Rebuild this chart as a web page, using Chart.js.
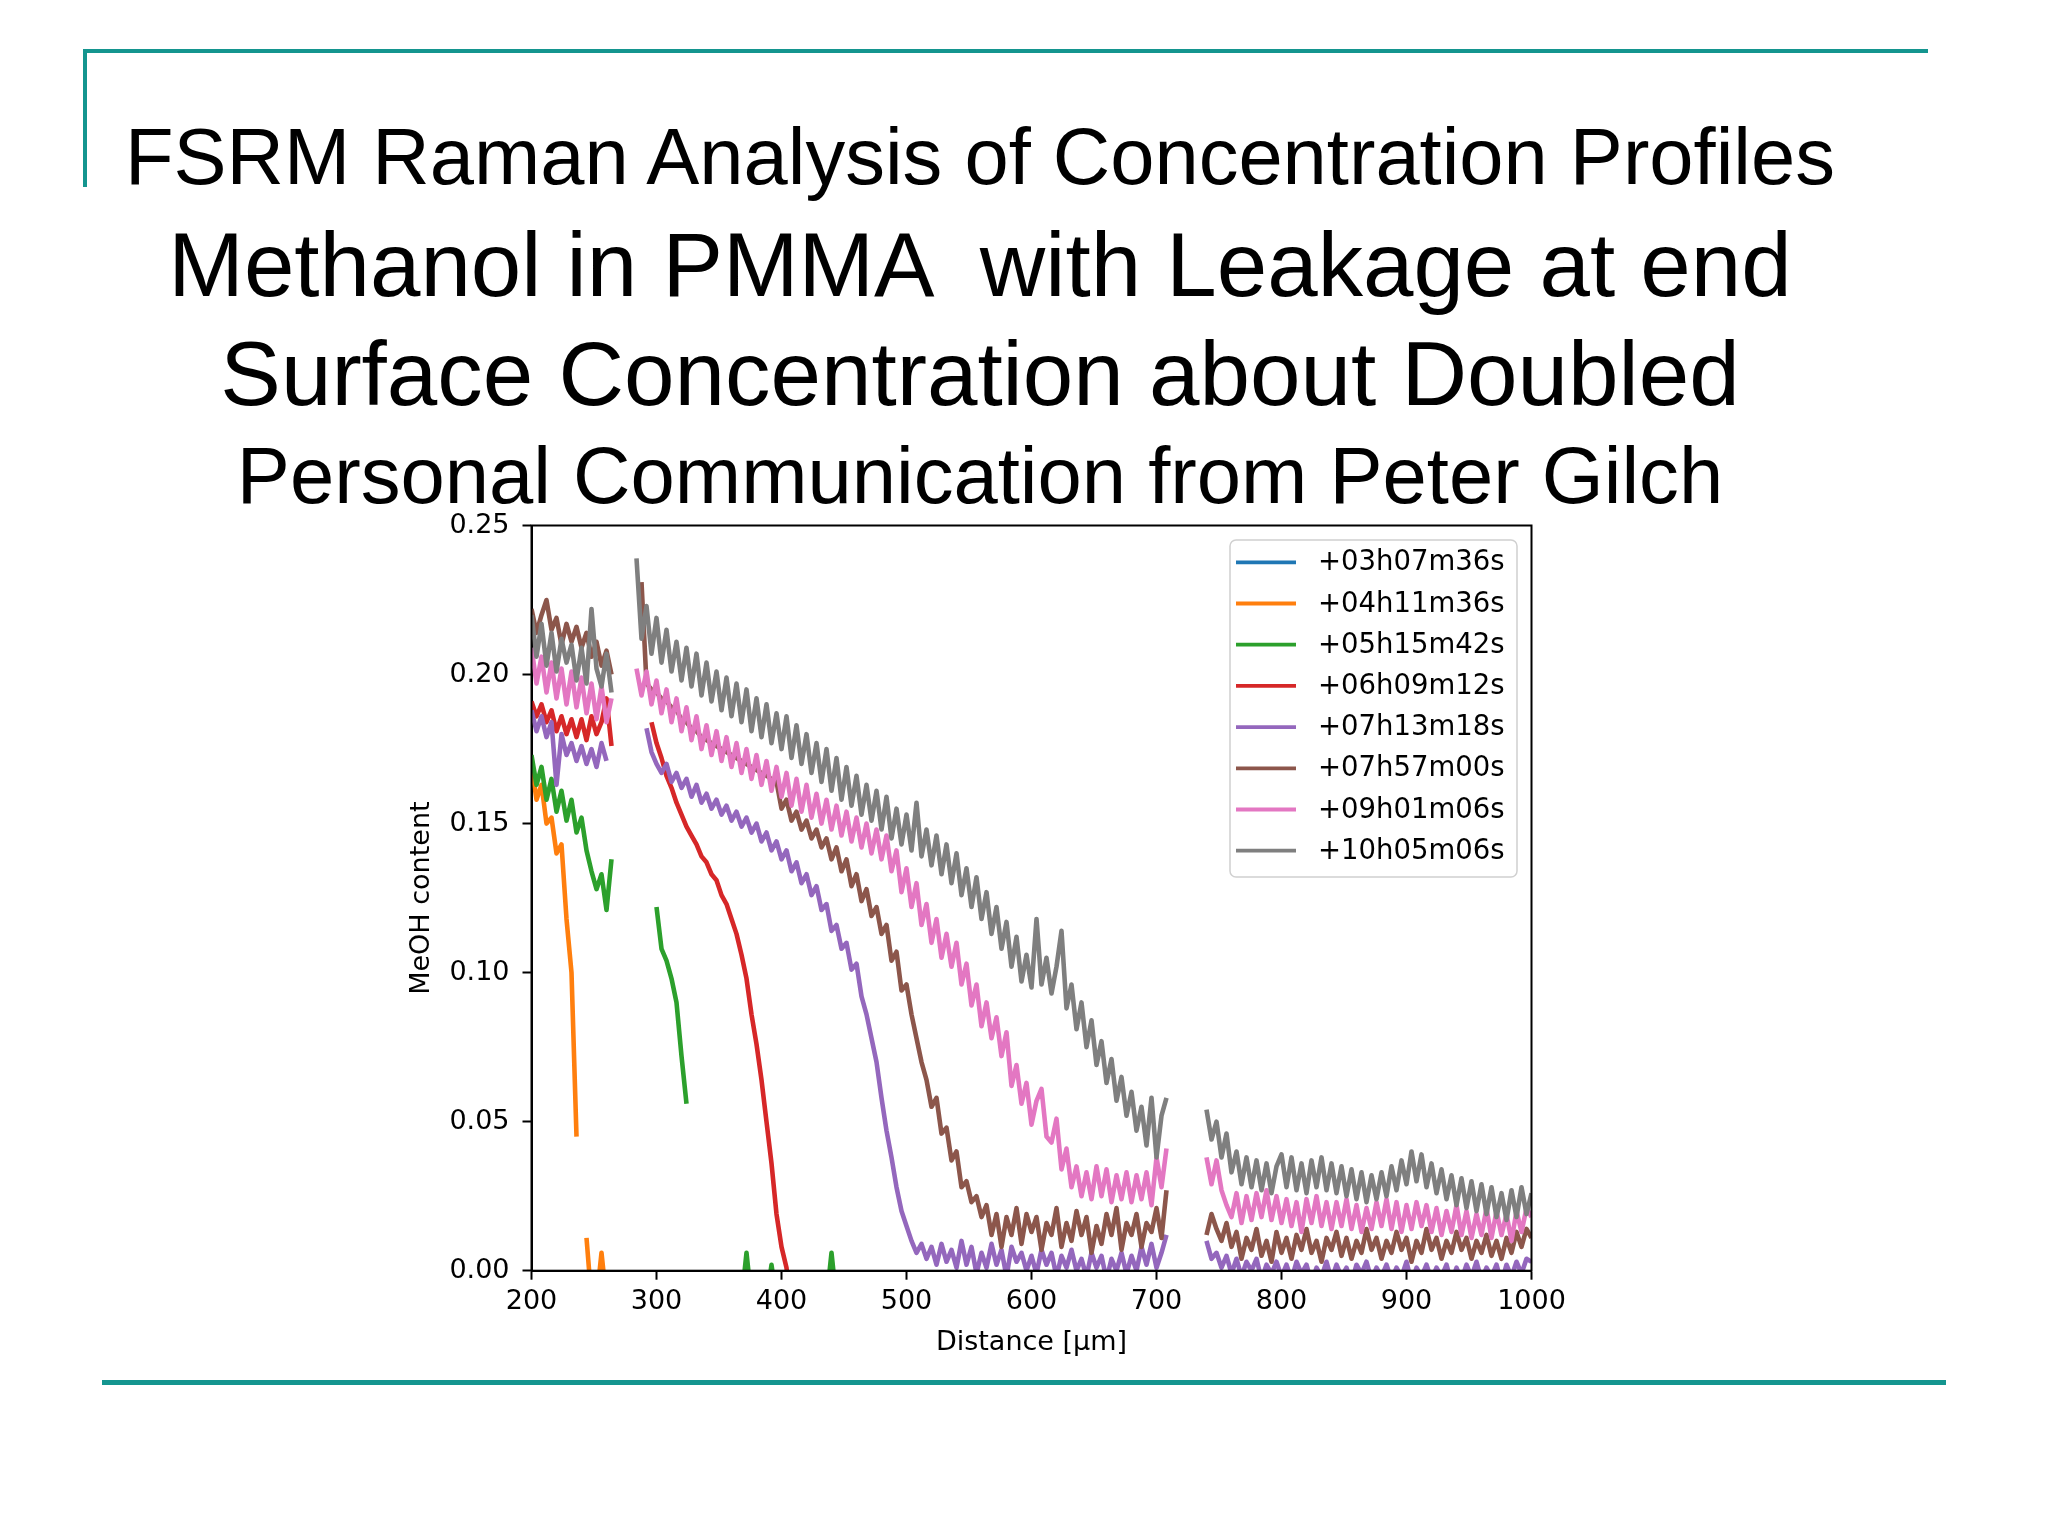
<!DOCTYPE html>
<html>
<head>
<meta charset="utf-8">
<title>FSRM Raman Analysis of Concentration Profiles</title>
<script src="https://cdn.jsdelivr.net/npm/chart.js@4.4.0/dist/chart.umd.min.js"></script>
<style>
  html, body { margin: 0; padding: 0; background: #fff; }
  body { width: 2048px; height: 1536px; position: relative; overflow: hidden; }
  .rule { position: absolute; background: #14958f; }
  .head {
    position: absolute; left: 0; width: 1960px; text-align: center; white-space: pre;
    font-family: "Liberation Sans", Arial, sans-serif; color: #000; line-height: 1;
  }
  #wrap { position: absolute; left: 0; top: 0; width: 2048px; height: 1536px; }
</style>
</head>
<body>
<div class="rule" style="left:83px;top:49px;width:1845px;height:4px"></div>
<div class="rule" style="left:83px;top:49px;width:4px;height:138px"></div>
<div class="rule" style="left:102px;top:1380px;width:1844px;height:5px"></div>

<div class="head" style="top:117px;font-size:79.5px">FSRM Raman Analysis of Concentration Profiles</div>
<div class="head" style="top:220px;font-size:90.7px">Methanol in PMMA  with Leakage at end</div>
<div class="head" style="top:329px;font-size:90.8px">Surface Concentration about Doubled</div>
<div class="head" style="top:436px;font-size:79.6px">Personal Communication from Peter Gilch</div>

<div id="wrap"><canvas id="myChart"></canvas></div>

<script>
// distance [µm], one sample every 4 µm
var distance = [
  200, 204, 208, 212, 216, 220, 224, 228, 232, 236,
  240, 244, 248, 252, 256, 260, 264, 268, 272, 276,
  280, 284, 288, 292, 296, 300, 304, 308, 312, 316,
  320, 324, 328, 332, 336, 340, 344, 348, 352, 356,
  360, 364, 368, 372, 376, 380, 384, 388, 392, 396,
  400, 404, 408, 412, 416, 420, 424, 428, 432, 436,
  440, 444, 448, 452, 456, 460, 464, 468, 472, 476,
  480, 484, 488, 492, 496, 500, 504, 508, 512, 516,
  520, 524, 528, 532, 536, 540, 544, 548, 552, 556,
  560, 564, 568, 572, 576, 580, 584, 588, 592, 596,
  600, 604, 608, 612, 616, 620, 624, 628, 632, 636,
  640, 644, 648, 652, 656, 660, 664, 668, 672, 676,
  680, 684, 688, 692, 696, 700, 704, 708, 712, 716,
  720, 724, 728, 732, 736, 740, 744, 748, 752, 756,
  760, 764, 768, 772, 776, 780, 784, 788, 792, 796,
  800, 804, 808, 812, 816, 820, 824, 828, 832, 836,
  840, 844, 848, 852, 856, 860, 864, 868, 872, 876,
  880, 884, 888, 892, 896, 900, 904, 908, 912, 916,
  920, 924, 928, 932, 936, 940, 944, 948, 952, 956,
  960, 964, 968, 972, 976, 980, 984, 988, 992, 996,
  1000
];

var seriesLabels = ['+03h07m36s', '+04h11m36s', '+05h15m42s', '+06h09m12s',
                    '+07h13m18s', '+07h57m00s', '+09h01m06s', '+10h05m06s'];

var xTicks = [200, 300, 400, 500, 600, 700, 800, 900, 1000];
var yTicks = [0, 0.05, 0.10, 0.15, 0.20, 0.25];

// MeOH content per scan (null = no data)
var t0307 = [];

var t0411 = [
  0.170, 0.158, 0.163, 0.150, 0.152, 0.140, 0.143, 0.118, 0.100, 0.045,
  null, 0.011, -0.010, -0.010, 0.006, -0.010
];

var t0515 = [
  0.173, 0.163, 0.169, 0.158, 0.165, 0.154, 0.161, 0.151, 0.158, 0.147,
  0.152, 0.141, 0.134, 0.128, 0.133, 0.121, 0.138, null, null, null,
  null, null, null, null, null, 0.122, 0.108, 0.104, 0.098, 0.090,
  0.072, 0.056, null, null, null, null, null, null, null, null,
  null, null, -0.010, 0.006, -0.010, null, null, -0.010, 0.002, -0.010,
  null, null, null, null, null, null, null, null, null, -0.010,
  0.006, -0.010
];

var t0609 = [
  0.191, 0.186, 0.190, 0.184, 0.188, 0.181, 0.186, 0.180, 0.185, 0.179,
  0.185, 0.178, 0.186, 0.180, 0.184, 0.192, 0.176, null, null, null,
  null, null, null, null, 0.184, 0.177, 0.172, 0.166, 0.162, 0.157,
  0.153, 0.149, 0.146, 0.143, 0.139, 0.137, 0.133, 0.131, 0.126, 0.123,
  0.118, 0.113, 0.106, 0.098, 0.086, 0.076, 0.064, 0.050, 0.036, 0.019,
  0.008, 0.001, -0.015
];

var t0713 = [
  0.188, 0.181, 0.186, 0.179, 0.184, 0.163, 0.180, 0.173, 0.177, 0.171,
  0.176, 0.170, 0.175, 0.169, 0.177, 0.171, null, null, null, null,
  null, null, null, 0.182, 0.174, 0.170, 0.167, 0.170, 0.164, 0.167,
  0.162, 0.165, 0.159, 0.163, 0.157, 0.160, 0.155, 0.158, 0.153, 0.156,
  0.151, 0.154, 0.149, 0.152, 0.147, 0.150, 0.144, 0.147, 0.141, 0.144,
  0.138, 0.141, 0.134, 0.137, 0.130, 0.133, 0.126, 0.129, 0.121, 0.123,
  0.114, 0.116, 0.108, 0.110, 0.101, 0.103, 0.092, 0.086, 0.078, 0.070,
  0.058, 0.047, 0.038, 0.028, 0.020, 0.015, 0.010, 0.006, 0.009, 0.004,
  0.008, 0.002, 0.009, 0.003, 0.007, 0.001, 0.010, 0.002, 0.008, -0.001,
  0.006, 0.001, 0.009, 0.002, 0.007, -0.002, 0.008, 0.003, 0.006, 0.000,
  0.005, -0.001, 0.007, 0.002, 0.006, -0.002, 0.005, 0.001, 0.007, 0.000,
  0.004, -0.002, 0.006, 0.001, 0.005, -0.003, 0.004, 0.000, 0.006, -0.001,
  0.005, 0.000, 0.008, 0.002, 0.009, 0.001, 0.006, 0.012, null, null,
  null, null, null, null, null, 0.010, 0.004, 0.006, 0.001, 0.005,
  -0.001, 0.004, -0.002, 0.003, 0.000, 0.004, -0.003, 0.002, -0.001, 0.003,
  -0.002, 0.002, -0.003, 0.003, -0.001, 0.002, -0.004, 0.001, -0.002, 0.003,
  -0.003, 0.002, -0.002, 0.001, -0.004, 0.002, -0.001, 0.003, -0.003, 0.001,
  -0.002, 0.002, -0.003, 0.001, -0.002, 0.003, -0.004, 0.001, -0.002, 0.002,
  -0.003, 0.001, -0.002, 0.002, -0.004, 0.001, -0.003, 0.002, -0.002, 0.003,
  -0.003, 0.001, -0.002, 0.002, -0.004, 0.002, -0.002, 0.003, -0.001, 0.004,
  0.003
];

var t0757 = [
  0.222, 0.214, 0.220, 0.225, 0.215, 0.219, 0.210, 0.217, 0.211, 0.216,
  0.209, 0.214, 0.206, 0.211, 0.203, 0.208, 0.200, null, null, null,
  null, null, 0.231, 0.197, 0.195, 0.194, 0.192, 0.191, 0.189, 0.188,
  0.185, 0.184, 0.182, 0.181, 0.179, 0.178, 0.177, 0.176, 0.175, 0.174,
  0.173, 0.172, 0.171, 0.170, 0.169, 0.168, 0.167, 0.166, 0.165, 0.164,
  0.155, 0.158, 0.151, 0.154, 0.148, 0.151, 0.145, 0.148, 0.142, 0.145,
  0.138, 0.142, 0.134, 0.138, 0.129, 0.133, 0.124, 0.128, 0.119, 0.122,
  0.113, 0.116, 0.104, 0.107, 0.094, 0.096, 0.086, 0.078, 0.070, 0.064,
  0.055, 0.058, 0.046, 0.048, 0.037, 0.040, 0.028, 0.030, 0.023, 0.025,
  0.018, 0.022, 0.012, 0.019, 0.008, 0.018, 0.012, 0.021, 0.009, 0.019,
  0.013, 0.018, 0.007, 0.016, 0.012, 0.021, 0.008, 0.016, 0.010, 0.020,
  0.012, 0.018, 0.006, 0.015, 0.009, 0.019, 0.012, 0.021, 0.007, 0.016,
  0.012, 0.019, 0.008, 0.016, 0.013, 0.021, 0.011, 0.027, null, null,
  null, null, null, null, null, 0.012, 0.019, 0.014, 0.010, 0.016,
  0.008, 0.013, 0.004, 0.011, 0.007, 0.014, 0.005, 0.010, 0.003, 0.013,
  0.006, 0.011, 0.004, 0.012, 0.007, 0.014, 0.006, 0.010, 0.003, 0.011,
  0.007, 0.013, 0.005, 0.011, 0.004, 0.010, 0.006, 0.014, 0.007, 0.011,
  0.004, 0.010, 0.006, 0.013, 0.007, 0.011, 0.003, 0.010, 0.006, 0.014,
  0.007, 0.011, 0.004, 0.010, 0.006, 0.013, 0.007, 0.011, 0.004, 0.010,
  0.006, 0.012, 0.005, 0.010, 0.004, 0.011, 0.006, 0.013, 0.008, 0.014,
  0.011
];

var t0901 = [
  0.209, 0.197, 0.206, 0.194, 0.204, 0.192, 0.202, 0.190, 0.201, 0.189,
  0.199, 0.187, 0.197, 0.185, 0.196, 0.184, 0.192, null, null, null,
  null, 0.202, 0.193, 0.201, 0.190, 0.198, 0.187, 0.195, 0.184, 0.192,
  0.181, 0.189, 0.178, 0.186, 0.175, 0.183, 0.173, 0.181, 0.171, 0.179,
  0.169, 0.177, 0.167, 0.175, 0.165, 0.173, 0.163, 0.171, 0.161, 0.169,
  0.159, 0.167, 0.156, 0.165, 0.154, 0.163, 0.152, 0.160, 0.150, 0.158,
  0.148, 0.156, 0.146, 0.154, 0.144, 0.152, 0.142, 0.150, 0.140, 0.148,
  0.138, 0.146, 0.134, 0.141, 0.127, 0.135, 0.122, 0.130, 0.116, 0.123,
  0.110, 0.118, 0.105, 0.113, 0.102, 0.110, 0.096, 0.103, 0.089, 0.096,
  0.082, 0.090, 0.078, 0.085, 0.072, 0.080, 0.062, 0.069, 0.056, 0.063,
  0.049, 0.057, 0.061, 0.045, 0.043, 0.051, 0.034, 0.041, 0.028, 0.035,
  0.025, 0.033, 0.024, 0.035, 0.025, 0.034, 0.023, 0.032, 0.024, 0.033,
  0.023, 0.032, 0.024, 0.033, 0.022, 0.038, 0.028, 0.041, null, null,
  null, null, null, null, null, 0.038, 0.029, 0.037, 0.027, 0.022,
  0.018, 0.026, 0.016, 0.025, 0.017, 0.026, 0.018, 0.027, 0.017, 0.025,
  0.016, 0.024, 0.015, 0.023, 0.013, 0.024, 0.016, 0.025, 0.015, 0.023,
  0.014, 0.023, 0.015, 0.024, 0.014, 0.022, 0.013, 0.021, 0.014, 0.023,
  0.015, 0.024, 0.014, 0.023, 0.013, 0.022, 0.014, 0.023, 0.015, 0.022,
  0.013, 0.021, 0.012, 0.020, 0.013, 0.022, 0.012, 0.020, 0.011, 0.019,
  0.012, 0.021, 0.011, 0.020, 0.012, 0.019, 0.010, 0.020, 0.013, 0.021,
  0.018
];

var t1005 = [
  0.220, 0.206, 0.217, 0.203, 0.214, 0.201, 0.212, 0.204, 0.210, 0.198,
  0.209, 0.197, 0.222, 0.202, 0.196, 0.207, 0.194, null, null, null,
  null, 0.239, 0.212, 0.223, 0.207, 0.219, 0.204, 0.215, 0.201, 0.211,
  0.198, 0.209, 0.196, 0.207, 0.193, 0.204, 0.191, 0.201, 0.188, 0.199,
  0.186, 0.197, 0.184, 0.195, 0.181, 0.192, 0.179, 0.190, 0.177, 0.187,
  0.175, 0.186, 0.172, 0.183, 0.170, 0.180, 0.167, 0.177, 0.164, 0.175,
  0.161, 0.172, 0.158, 0.169, 0.156, 0.166, 0.153, 0.163, 0.151, 0.161,
  0.148, 0.159, 0.145, 0.155, 0.143, 0.153, 0.141, 0.157, 0.139, 0.148,
  0.136, 0.146, 0.133, 0.143, 0.130, 0.140, 0.126, 0.135, 0.122, 0.132,
  0.118, 0.127, 0.113, 0.122, 0.108, 0.117, 0.102, 0.112, 0.097, 0.106,
  0.095, 0.118, 0.096, 0.105, 0.093, 0.102, 0.114, 0.088, 0.096, 0.081,
  0.090, 0.075, 0.084, 0.069, 0.077, 0.063, 0.071, 0.057, 0.065, 0.052,
  0.060, 0.047, 0.055, 0.042, 0.058, 0.038, 0.052, 0.058, null, null,
  null, null, null, null, null, 0.054, 0.044, 0.050, 0.038, 0.046,
  0.033, 0.040, 0.029, 0.038, 0.028, 0.037, 0.027, 0.036, 0.026, 0.035,
  0.039, 0.028, 0.038, 0.027, 0.036, 0.026, 0.037, 0.028, 0.038, 0.027,
  0.036, 0.026, 0.035, 0.025, 0.034, 0.024, 0.033, 0.023, 0.032, 0.024,
  0.033, 0.025, 0.035, 0.027, 0.037, 0.029, 0.040, 0.030, 0.039, 0.028,
  0.036, 0.026, 0.034, 0.024, 0.032, 0.022, 0.031, 0.021, 0.030, 0.020,
  0.029, 0.019, 0.028, 0.018, 0.026, 0.017, 0.027, 0.018, 0.028, 0.019,
  0.026
];

var allSeries = [t0307, t0411, t0515, t0609, t0713, t0757, t0901, t1005];
var colors = ['#1f77b4', '#ff7f0e', '#2ca02c', '#d62728', '#9467bd', '#8c564b', '#e377c2', '#7f7f7f'];

Chart.defaults.font.family = "'DejaVu Sans', sans-serif";
Chart.defaults.font.size = 27;
Chart.defaults.color = '#000';

// frame + legend inside the axes, like matplotlib
var insideLegend = {
    id: 'insideLegend',
    afterDatasetsDraw: function(chart) {
        var ctx = chart.ctx;
        var a = chart.chartArea;
        ctx.save();
        ctx.strokeStyle = '#000';
        ctx.lineWidth = 2;
        ctx.strokeRect(a.left, a.top, a.right - a.left, a.bottom - a.top);

        var x0 = a.right - 301.5, y0 = a.top + 14.5, w = 287, h = 337;
        ctx.beginPath();
        ctx.roundRect(x0, y0, w, h, 6);
        ctx.fillStyle = 'rgba(255,255,255,0.8)';
        ctx.fill();
        ctx.strokeStyle = '#d0d0d0';
        ctx.lineWidth = 1.5;
        ctx.stroke();

        ctx.font = "27.5px 'DejaVu Sans', sans-serif";
        ctx.textBaseline = 'middle';
        ctx.textAlign = 'left';
        chart.data.datasets.forEach(function(ds, i) {
            var y = y0 + 22.3 + 41.2 * i;
            ctx.beginPath();
            ctx.moveTo(x0 + 6, y);
            ctx.lineTo(x0 + 66, y);
            ctx.strokeStyle = ds.borderColor;
            ctx.lineWidth = 3.8;
            ctx.stroke();
            ctx.fillStyle = '#000';
            ctx.fillText(ds.label, x0 + 88, y + 1);
        });
        ctx.restore();
    }
};

var datasets = allSeries.map(function(values, i) {
    return {
        label: seriesLabels[i],
        data: values.map(function(v, j) { return { x: distance[j], y: v }; }),
        borderColor: colors[i],
        backgroundColor: colors[i],
        borderWidth: 4.6,
        borderJoinStyle: 'round',
        pointRadius: 0,
        tension: 0,
        spanGaps: false,
        order: allSeries.length - 1 - i
    };
});

var ctx = document.getElementById('myChart').getContext('2d');
var myChart = new Chart(ctx, {
    type: 'line',
    data: { datasets: datasets },
    options: {
        responsive: true,
        maintainAspectRatio: false,
        devicePixelRatio: 1,
        animation: false,
        events: [],
        layout: { padding: { left: 400, top: 525.5, right: 516.5, bottom: 165.3 } },
        plugins: { legend: { display: false }, tooltip: { enabled: false } },
        scales: {
            x: {
                type: 'linear',
                min: 200,
                max: 1000,
                afterBuildTicks: function(scale) {
                    scale.ticks = xTicks.map(function(v) { return { value: v }; });
                },
                afterFit: function(scale) { scale.height = 100; },
                ticks: {
                    padding: 6,
                    maxRotation: 0,
                    autoSkip: false,
                    callback: function(v) { return String(v); }
                },
                grid: { drawOnChartArea: false, drawTicks: true, tickLength: 9, tickWidth: 2, tickColor: '#000' },
                border: { display: true, color: '#000', width: 2 },
                title: { display: true, text: 'Distance [µm]', padding: { top: 0, bottom: 12 } }
            },
            y: {
                min: 0,
                max: 0.25,
                afterBuildTicks: function(scale) {
                    scale.ticks = yTicks.map(function(v) { return { value: v }; });
                },
                afterFit: function(scale) { scale.width = 131.5; },
                ticks: {
                    padding: 13,
                    autoSkip: false,
                    callback: function(v) { return Number(v).toFixed(2); }
                },
                grid: { drawOnChartArea: false, drawTicks: true, tickLength: 9, tickWidth: 2, tickColor: '#000' },
                border: { display: true, color: '#000', width: 2 },
                title: { display: true, text: 'MeOH content', padding: { top: 6, bottom: 0 } }
            }
        }
    },
    plugins: [insideLegend]
});
</script>
</body>
</html>
